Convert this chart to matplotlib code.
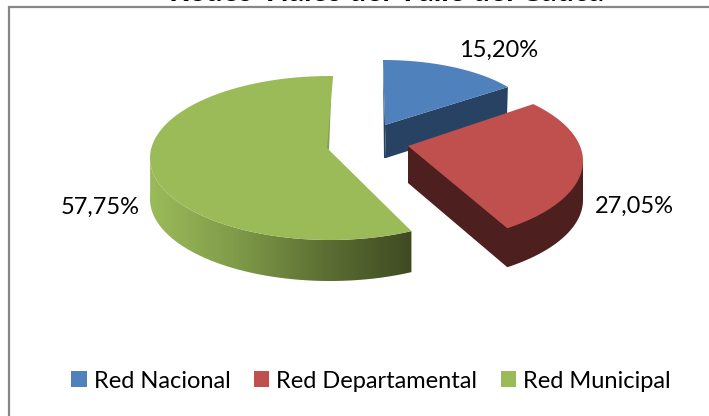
import numpy as np
import matplotlib
matplotlib.use("Agg")
import matplotlib.pyplot as plt
from matplotlib.patches import Polygon, Patch
from matplotlib.colors import LinearSegmentedColormap

categories = ["Red Nacional", "Red Departamental", "Red Municipal"]
values = [15.20, 27.05, 57.75]
title_text = "Redes Viales del Valle del Cauca"

plt.rcParams['font.family'] = ['Lato', 'DejaVu Sans']

W, H = 709, 416
fig = plt.figure(figsize=(W / 100, H / 100), dpi=100)
ax = fig.add_axes([0, 0, 1, 1])

# angles clockwise from 12 o'clock
cum = np.cumsum([0] + values) * 3.6
starts = cum[:-1]
ends = cum[1:]


def arc(t0, t1, cx, cy, a, b, rot=0, n=120):
    t = np.radians(np.linspace(t0, t1, n) + rot)
    return np.column_stack([cx + a * np.sin(t), cy - b * np.cos(t)])


def slice_top(i, cx, cy, a, b, apex, rot=0):
    pts = arc(starts[i], ends[i], cx, cy, a, b, rot)
    return np.vstack([[apex], pts])


# --- blue
blue_apex = (385, 125)
blue_top = slice_top(0, 383, 124, 153, 64, blue_apex)
blue_end = blue_top[-1]
blue_wall = [blue_apex, tuple(blue_end), (blue_end[0] - 1, blue_end[1] + 32), (386, 158)]
ax.add_patch(Polygon(blue_wall, fc="#274263", ec="none", zorder=2))
ax.add_patch(Polygon([(383, 60), blue_apex, (386, 158), (384, 158)], fc="#274263", ec="none", zorder=2))
ax.add_patch(Polygon(blue_top, fc="#4f81bd", ec="none", zorder=3))

# --- red
red_apex = (408, 146)
red_depth = 39
red_top = slice_top(1, 400, 161, 183, 83, red_apex, rot=-8)
red_outer = arc(98, ends[1], 400, 161, 183, 83, rot=-8)
red_wall = [red_apex, (red_apex[0], red_apex[1] + red_depth - 2)]
red_wall += (red_outer[::-1] + [0, red_depth]).tolist() + [(583, 161)]
ax.add_patch(Polygon(red_wall, fc="#4e1f1f", ec="none", zorder=4))
ax.add_patch(Polygon(red_top, fc="#c0504d", ec="none", zorder=5))

# --- green
green_apex = (327, 148)
green_depth = 41
green_top = slice_top(2, 330, 158, 180, 82, green_apex, rot=1)
green_cut = arc(starts[2], 271, 330, 158, 180, 82, rot=1)
wall_path = np.vstack([green_cut, green_cut[::-1] + [0, green_depth]])
grad = LinearSegmentedColormap.from_list("wall", ["#9bbb59", "#7f9a49", "#5c6f33", "#3f4a22"])
im = ax.imshow(np.linspace(0, 1, 256).reshape(1, -1), cmap=grad, extent=(150, 412, 282, 150),
               aspect="auto", zorder=6)
clip = Polygon(wall_path, transform=ax.transData, fc="none", ec="none")
ax.add_patch(clip)
im.set_clip_path(clip)
ax.add_patch(Polygon([(331, 77), (331, 100), (329, 150), (326, 148)], fc="#84a04b", ec="none", zorder=7))
ax.add_patch(Polygon(green_top, fc="#9bbb59", ec="none", zorder=8))

# --- chart frame, only top and left show
ax.plot([9, 9, W], [H, 7, 7], color="#868686", lw=1.6, zorder=1, solid_joinstyle="miter")

# --- labels
labels = [f"{v:.2f}%".replace(".", ",") for v in values]
label_pos = [(499, 50), (634, 206), (100, 207)]
for lab, (x, y) in zip(labels, label_pos):
    ax.text(x, y, lab, fontsize=17, ha="center", va="center", color="black", zorder=10)

ax.text(386, 1, title_text, fontsize=22, fontweight="bold", ha="center", va="baseline",
        color="black", zorder=10)

handles = [Patch(fc=c, ec="none") for c in ["#4f81bd", "#c0504d", "#9bbb59"]]
ax.legend(handles, categories, ncol=3, loc="center", bbox_to_anchor=(371 / W, 1 - 381 / H),
          frameon=False, fontsize=17, handlelength=0.64, handleheight=0.64, handletextpad=0.3,
          columnspacing=1.0, borderpad=0, borderaxespad=0)

ax.set_xlim(0, W)
ax.set_ylim(H, 0)
ax.axis("off")
fig.savefig("out.png", dpi=100, facecolor="white")
